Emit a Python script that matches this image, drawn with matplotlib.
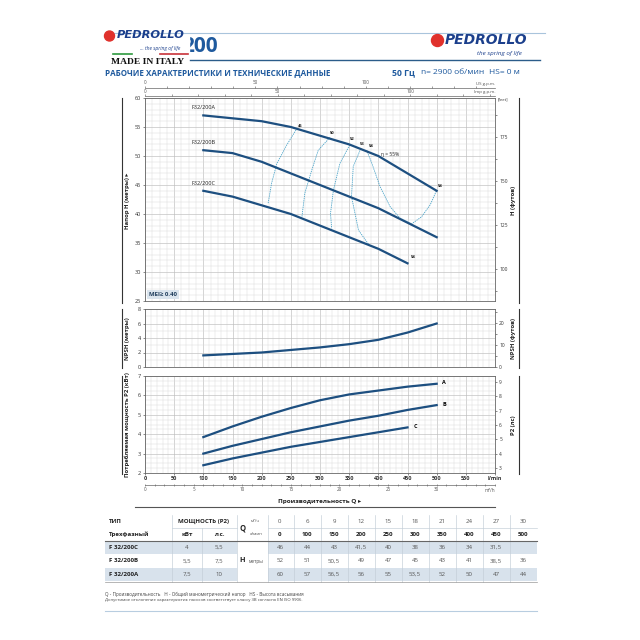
"""
Pedrollo F32/200 performance sheet, rebuilt with matplotlib
"""

import matplotlib
matplotlib.use("Agg")
from matplotlib import pyplot as plt
from matplotlib.ticker import MultipleLocator
from matplotlib.patches import Circle, Rectangle

plt.rcParams['font.family'] = ['Open Sans', 'DejaVu Sans']

# Table data
q_m3h = [0, 6, 9, 12, 15, 18, 21, 24, 27, 30]
q_lmin = [0, 100, 150, 200, 250, 300, 350, 400, 450, 500]
h_c = [46, 44, 43, 41.5, 40, 38, 36, 34, 31.5, None]
h_b = [52, 51, 50.5, 49, 47, 45, 43, 41, 38.5, 36]
h_a = [60, 57, 56.5, 56, 55, 53.5, 52, 50, 47, 44]
models = ["F 32/200C", "F 32/200B", "F 32/200A"]
p2_kw = [4, 5.5, 7.5]
p2_hp = [5.5, 7.5, 10]

# Efficiency iso-lines (l/min, m)
eff45_q = [259, 243, 226, 217, 211]
eff45_h = [54.5, 51.9, 48.7, 45.3, 41.8]
eff50_q = [317, 297, 286, 274, 269]
eff50_h = [53.2, 51.0, 47.6, 43.6, 39.5]
eff52_q = [351, 334, 323, 318, 320]
eff52_h = [51.9, 48.7, 44.1, 40.1, 37.5]
eff53_q = [370, 357, 354, 366, 386]
eff53_h = [51.3, 48.2, 43.0, 37.2, 34.4]
eff54_q = [380, 389, 403, 420, 437, 457, 474, 489, 500]
eff54_h = [51.0, 48.7, 44.7, 41.3, 39.3, 38.3, 39.5, 41.6, 44.1]

# NPSH
npsh_q = [100, 150, 200, 250, 300, 350, 400, 450, 500]
npsh_m = [1.6, 1.8, 2.0, 2.35, 2.7, 3.15, 3.75, 4.75, 6.0]

# Power P2 (kW)
pw_q = [100, 150, 200, 250, 300, 350, 400, 450, 500]
pw_a = [3.85, 4.4, 4.9, 5.35, 5.75, 6.05, 6.25, 6.45, 6.6]
pw_b = [3.0, 3.4, 3.75, 4.1, 4.4, 4.7, 4.95, 5.25, 5.5]
pw_c = [2.4, 2.75, 3.05, 3.35, 3.6, 3.85, 4.1, 4.35]

BLUE = "#1d4f80"
TITLE = "#1f5a9e"
EFF = "#4aa3c8"

fig = plt.figure(figsize=(6.4, 6.4), dpi=100)

# overlay in pixel coordinates for header, labels and table
ov = fig.add_axes([0, 0, 1, 1])
ov.set_xlim(0, 640)
ov.set_ylim(640, 0)
ov.axis("off")


def box(l, t, r, b):
    return [l / 640, 1 - b / 640, (r - l) / 640, (b - t) / 640]


def style(ax):
    ax.set_xlim(0, 600)
    ax.set_axisbelow(True)
    ax.grid(which="major", color="#bdbdbd", lw=0.45)
    ax.grid(which="minor", color="#dcdcdc", lw=0.35)
    for s in ax.spines.values():
        s.set_color("#666666")
        s.set_linewidth(0.6)
    ax.tick_params(which="both", labelsize=4, length=1.5, width=0.4, pad=1.5, colors="#333333")


# ---------------- Header ----------------
# model number partly hidden behind the logo block
ov.text(218, 46, "200", fontsize=15, fontweight="bold", color=TITLE, ha="right", va="center", zorder=2)
ov.add_patch(Rectangle((174, 34), 15, 24, color="white", zorder=3))
ov.plot([105, 545], [33, 33], color="#a9c4dc", lw=0.8, zorder=4)
ov.plot([190, 540], [59.5, 59.5], color="#2b5c8a", lw=1.0, zorder=4)

# left logo
ov.add_patch(Circle((109.5, 36), 5, color="#e0312c", zorder=5))
ov.text(116.5, 35.5, "PEDROLLO", fontsize=8.2, fontweight="bold", style="italic",
        color="#1b3f8c", va="center", ha="left", zorder=5, family="DejaVu Sans")
ov.text(180, 48.5, "... the spring of life", fontsize=3.6, style="italic", color="#1b3f8c",
        ha="right", va="center", zorder=5)
ov.plot([113, 132], [54, 54], color="#2e9a3e", lw=1.2, zorder=5)
ov.plot([160, 188], [54, 54], color="#c8323a", lw=1.2, zorder=5)
ov.text(111, 61.5, "MADE IN ITALY", fontsize=6.8, fontweight="bold", family="Liberation Serif",
        color="#111111", ha="left", va="center", zorder=5)

# right logo
ov.add_patch(Circle((437.5, 40.5), 6, color="#e0312c", zorder=5))
ov.text(445, 40.5, "PEDROLLO", fontsize=10, fontweight="bold", style="italic",
        color="#1b3f8c", va="center", ha="left", zorder=5, family="DejaVu Sans")
ov.text(522, 53.5, "the spring of life", fontsize=4.5, style="italic", color="#1b3f8c",
        ha="right", va="center", zorder=5)

ov.text(105, 72.5, "РАБОЧИЕ ХАРАКТЕРИСТИКИ И ТЕХНИЧЕСКИЕ ДАННЫЕ", fontsize=5.8,
        fontweight="bold", color=TITLE, ha="left", va="center")
ov.text(392, 72.5, "50 Гц", fontsize=6.2, fontweight="bold", color=TITLE, ha="left", va="center")
ov.text(421, 72.5, "n= 2900 об/мин", fontsize=6.0, color=TITLE, ha="left", va="center")
ov.text(489, 72.5, "HS= 0 м", fontsize=6.0, color=TITLE, ha="left", va="center")

# ---------------- Head chart ----------------
ax_h = fig.add_axes(box(145, 98, 495, 301))
style(ax_h)
ax_h.set_ylim(25, 60)
ax_h.yaxis.set_major_locator(MultipleLocator(5))
ax_h.yaxis.set_minor_locator(MultipleLocator(1))
ax_h.xaxis.set_major_locator(MultipleLocator(50))
ax_h.xaxis.set_minor_locator(MultipleLocator(12.5))
ax_h.tick_params(axis="x", which="both", labelbottom=False, length=0)
ax_h.tick_params(axis="y", which="minor", length=0)

for q, h in [(eff45_q, eff45_h), (eff50_q, eff50_h), (eff52_q, eff52_h),
             (eff53_q, eff53_h), (eff54_q, eff54_h)]:
    ax_h.plot(q, h, color=EFF, lw=0.6, ls=(0, (1.6, 1.0)), zorder=2)

ax_h.plot(q_lmin[1:], h_a[1:], color=BLUE, lw=1.6, zorder=3)
ax_h.plot(q_lmin[1:], h_b[1:], color=BLUE, lw=1.6, zorder=3)
ax_h.plot(q_lmin[1:9], h_c[1:9], color=BLUE, lw=1.6, zorder=3)

for name, h in zip(["F32/200A", "F32/200B", "F32/200C"], [h_a[1], h_b[1], h_c[1]]):
    ax_h.text(80, h + 0.9, name, fontsize=4, color="#222222", ha="left", va="bottom")

for txt, q, h in [("45", 266, 54.9), ("50", 321, 53.6), ("52", 356, 52.5), ("53", 372, 51.7),
                  ("54", 387, 51.4), ("54", 506, 44.5), ("54", 460, 32.2)]:
    ax_h.text(q, h, txt, fontsize=3, fontweight="bold", color="#222222", ha="center", va="bottom")
ax_h.text(404, 50.2, "η = 55%", fontsize=3.6, color="#222222", ha="left", va="center")

ax_h.text(0.012, 0.018, "MEI≥ 0.40", transform=ax_h.transAxes, fontsize=4.3, fontweight="bold",
          color="#1f3d5c", ha="left", va="bottom",
          bbox=dict(boxstyle="square,pad=0.35", fc="#dbe5ee", ec="none"))

ft = ax_h.secondary_yaxis("right", functions=(lambda m: m * 3.28084, lambda f: f / 3.28084))
ft.set_yticks([100, 125, 150, 175])
ft.yaxis.set_minor_locator(MultipleLocator(12.5))
ft.tick_params(which="both", labelsize=3.5, length=1.5, width=0.4, pad=1.5, colors="#333333")
ft.spines["right"].set_visible(False)
ov.text(498, 99, "[feet]", fontsize=3, color="#333333", ha="left", va="center")

us = ax_h.secondary_xaxis(1 + 9.7 / 203, functions=(lambda q: q * 0.264172, lambda g: g / 0.264172))
us.set_xticks([0, 50, 100])
us.xaxis.set_minor_locator(MultipleLocator(10))
us.tick_params(which="both", labelsize=3.3, length=1.5, width=0.4, pad=0.6, colors="#555555")
us.spines["top"].set_color("#666666")
us.spines["top"].set_linewidth(0.5)
ov.text(495, 83.5, "US g.p.m.", fontsize=3.2, color="#555555", ha="right", va="center")

imp = ax_h.secondary_xaxis(1 + 2.2 / 203, functions=(lambda q: q * 0.219969, lambda g: g / 0.219969))
imp.set_xticks([0, 50, 100])
imp.xaxis.set_minor_locator(MultipleLocator(10))
imp.tick_params(which="both", labelsize=3.3, length=1.2, width=0.4, pad=0.4, colors="#555555")
imp.spines["top"].set_color("#666666")
imp.spines["top"].set_linewidth(0.5)
ov.text(495, 92.5, "Imp g.p.m.", fontsize=3.2, color="#555555", ha="right", va="center")

# ---------------- NPSH chart ----------------
ax_n = fig.add_axes(box(145, 309, 495, 367))
style(ax_n)
ax_n.set_ylim(0, 8)
ax_n.yaxis.set_major_locator(MultipleLocator(2))
ax_n.yaxis.set_minor_locator(MultipleLocator(1))
ax_n.xaxis.set_major_locator(MultipleLocator(50))
ax_n.xaxis.set_minor_locator(MultipleLocator(10))
ax_n.tick_params(axis="x", which="both", labelbottom=False, length=0)
ax_n.tick_params(axis="y", which="minor", length=0)
ax_n.plot(npsh_q, npsh_m, color=BLUE, lw=1.6)

nft = ax_n.secondary_yaxis("right", functions=(lambda m: m * 3.28084, lambda f: f / 3.28084))
nft.set_yticks([0, 10, 20])
nft.yaxis.set_minor_locator(MultipleLocator(5))
nft.tick_params(which="both", labelsize=3.5, length=1.5, width=0.4, pad=1.5, colors="#333333")
nft.spines["right"].set_visible(False)

# ---------------- Power chart ----------------
ax_p = fig.add_axes(box(145, 376, 495, 473))
style(ax_p)
ax_p.set_ylim(2, 7)
ax_p.yaxis.set_major_locator(MultipleLocator(1))
ax_p.yaxis.set_minor_locator(MultipleLocator(0.25))
ax_p.set_xticks(range(0, 601, 50))
ax_p.set_xticklabels([str(v) for v in range(0, 551, 50)] + ["l/min"], fontweight="bold")
ax_p.xaxis.set_minor_locator(MultipleLocator(10))
ax_p.tick_params(which="minor", length=0)
ax_p.tick_params(axis="x", pad=1)
ax_p.plot(pw_q, pw_a, color=BLUE, lw=1.6)
ax_p.plot(pw_q, pw_b, color=BLUE, lw=1.6)
ax_p.plot(pw_q[:len(pw_c)], pw_c, color=BLUE, lw=1.6)
ax_p.text(pw_q[-1] + 10, pw_a[-1] + 0.05, "A", fontsize=4, fontweight="bold", va="center")
ax_p.text(pw_q[-1] + 10, pw_b[-1] + 0.05, "B", fontsize=4, fontweight="bold", va="center")
ax_p.text(pw_q[len(pw_c) - 1] + 10, pw_c[-1] + 0.05, "C", fontsize=4, fontweight="bold", va="center")

hp = ax_p.secondary_yaxis("right", functions=(lambda k: k / 0.7457, lambda h: h * 0.7457))
hp.set_yticks(range(3, 10))
hp.tick_params(labelsize=3.5, length=1.5, width=0.4, pad=1.5, colors="#333333")
hp.spines["right"].set_visible(False)

m3 = ax_p.secondary_xaxis(-12.0 / 97, functions=(lambda q: q * 0.06, lambda m: m / 0.06))
m3.set_xticks(range(0, 31, 5))
m3.xaxis.set_minor_locator(MultipleLocator(1))
m3.tick_params(which="both", labelsize=3.3, length=1.5, width=0.4, pad=1.0,
               direction="inout", colors="#555555")
m3.spines["bottom"].set_color("#666666")
m3.spines["bottom"].set_linewidth(0.5)
ov.text(495, 491, "m³/h", fontsize=3.3, color="#555555", ha="right", va="center")

ov.text(320, 501, "Производительность Q ▸", fontsize=4.6, fontweight="bold", color="#222222",
        ha="center", va="center")
ov.plot([135, 495], [506.5, 506.5], color="#555555", lw=0.8)

# side labels and bars
for top, bot, left_lbl, right_lbl in [(98, 303, "Напор H (метры) ▸", "H (футов)"),
                                        (309, 368, "NPSH (метры)", "NPSH (футов)"),
                                        (376, 474, "Потребляемая мощность P2 (кВт)", "P2 (лс)")]:
    ov.plot([121.5, 121.5], [top, bot], color="#333333", lw=0.8)
    ov.plot([518.5, 518.5], [top, bot], color="#333333", lw=0.8)
    ov.text(127, (top + bot) / 2, left_lbl, rotation=90, fontsize=4.3, fontweight="bold",
            color="#222222", ha="center", va="center")
    ov.text(513, (top + bot) / 2, right_lbl, rotation=90, fontsize=4.3, fontweight="bold",
            color="#222222", ha="center", va="center")

# ---------------- Table ----------------
tl, tr = 105, 537
val_x = [280 + i * 27.03 for i in range(len(q_m3h))]
row_y = [521.7, 534.3, 547.7, 561.0, 574.3]
shade = "#d8e2ec"
for yc in (row_y[2], row_y[4]):
    ov.add_patch(Rectangle((tl, yc - 6.6), 236.7 - tl, 13.2, color=shade, lw=0))
    ov.add_patch(Rectangle((268.3, yc - 6.6), tr - 268.3, 13.2, color=shade, lw=0))

for xv in [171.7, 236.7, 268.3] + [v + 13.5 for v in val_x[:-1]]:
    ov.plot([xv, xv], [515, 581.5], color="#c2ccd6", lw=0.45)
ov.plot([201.7, 201.7], [528, 581.5], color="#c2ccd6", lw=0.45)
ov.plot([171.7, 236.7], [528, 528], color="#c2ccd6", lw=0.45)
ov.plot([268.3, tr], [528, 528], color="#c2ccd6", lw=0.45)
ov.plot([tl, tr], [540.6, 540.6], color="#666666", lw=0.8)
ov.plot([tl, tr], [581.5, 581.5], color="#999999", lw=0.5)

fs = 4.4
ov.text(109, row_y[0], "ТИП", fontsize=fs, fontweight="bold", color="#222222", va="center")
ov.text(109, row_y[1], "Трехфазный", fontsize=fs, fontweight="bold", color="#222222", va="center")
ov.text(204, row_y[0], "МОЩНОСТЬ (P2)", fontsize=fs, fontweight="bold", color="#222222",
        ha="center", va="center")
ov.text(186.7, row_y[1], "кВт", fontsize=fs, fontweight="bold", color="#222222", ha="center", va="center")
ov.text(219, row_y[1], "л.с.", fontsize=fs, fontweight="bold", color="#222222", ha="center", va="center")
ov.text(240, 528.5, "Q", fontsize=5.5, fontweight="bold", color="#222222", ha="left", va="center")
ov.text(255, row_y[0] - 1, "м³/ч", fontsize=3.2, color="#555555", ha="center", va="center")
ov.text(256, row_y[1], "л/мин", fontsize=3.2, color="#555555", ha="center", va="center")
ov.text(239, row_y[3], "H", fontsize=5.2, fontweight="bold", color="#222222", ha="left", va="center")
ov.text(256, row_y[3], "метры", fontsize=3.4, color="#555555", ha="center", va="center")


def fmt(v):
    return "" if v is None else f"{v:g}".replace(".", ",")


for i, xv in enumerate(val_x):
    ov.text(xv, row_y[0], fmt(q_m3h[i]), fontsize=fs, color="#555555", ha="center", va="center")
    ov.text(xv, row_y[1], fmt(q_lmin[i]), fontsize=fs, fontweight="bold", color="#222222",
            ha="center", va="center")
    for r, hs in zip(row_y[2:], [h_c, h_b, h_a]):
        ov.text(xv, r, fmt(hs[i]), fontsize=fs, color="#555555", ha="center", va="center")

for r, m, kw, h in zip(row_y[2:], models, p2_kw, p2_hp):
    ov.text(109, r, m, fontsize=fs, fontweight="bold", color="#222222", va="center")
    ov.text(186.7, r, fmt(kw), fontsize=fs, color="#555555", ha="center", va="center")
    ov.text(219, r, fmt(h), fontsize=fs, color="#555555", ha="center", va="center")

ov.text(105, 594.5, "Q - Производительность   H - Общий манометрический напор   HS - Высота всасывания",
        fontsize=3.3, color="#444444", va="center")
ov.text(105, 600.5, "Допустимое отклонение характеристик насосов соответствует классу 3B согласно EN ISO 9906.",
        fontsize=3.1, color="#444444", va="center")
ov.plot([105, 537], [611, 611], color="#b8cde0", lw=0.8)

plt.savefig("out.png", dpi=100)
plt.close()
